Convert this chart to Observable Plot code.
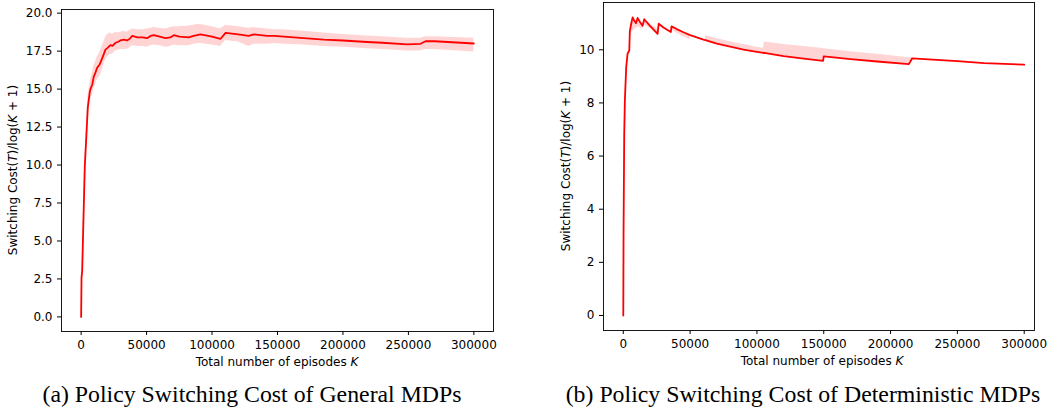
<!DOCTYPE html>
<html><head><meta charset="utf-8">
<script src="https://cdn.jsdelivr.net/npm/d3@7"></script>
<script src="https://cdn.jsdelivr.net/npm/@observablehq/plot@0.6"></script>
<style>
body{margin:0;background:#fff;}
#wrap{position:relative;width:1047px;height:410px;overflow:hidden;background:#fff;}
#left,#right{position:absolute;top:0;}
#left{left:0;} #right{left:527px;}
#ov{position:absolute;left:0;top:0;pointer-events:none;}
</style></head><body>
<div id="wrap"><div id="left"></div><div id="right"></div><svg id="ov" width="1047" height="410"></svg></div>
<script>
// ---- Data ----
const xTicks = [0, 50000, 100000, 150000, 200000, 250000, 300000];
const leftYTicks = [0, 2.5, 5, 7.5, 10, 12.5, 15, 17.5, 20];
const rightYTicks = [0, 2, 4, 6, 8, 10];

const leftK = [0, 300, 800, 1500, 2800, 3800, 5100, 6600, 7100, 8500, 9600, 11000, 12200, 14000, 15500, 17300, 18600, 20000, 22400, 24000, 26200, 28000, 30000, 32600, 35000, 37000, 39000, 43000, 47000, 50400, 53000, 55500, 60000, 64400, 68200, 70800, 75000, 82200, 86000, 88600, 91200, 100000, 106400, 110300, 120000, 128000, 131900, 142100, 148000, 154800, 170000, 185400, 200000, 218500, 230000, 249100, 259300, 263100, 270000, 300000];
const leftMean = [0, 2.6, 3.0, 5.5, 9.9, 11.6, 13.8, 14.8, 15.0, 15.3, 15.8, 16.1, 16.4, 16.6, 16.9, 17.3, 17.6, 17.7, 17.9, 17.85, 18.05, 18.1, 18.2, 18.25, 18.2, 18.3, 18.5, 18.4, 18.4, 18.35, 18.5, 18.55, 18.45, 18.35, 18.4, 18.55, 18.45, 18.4, 18.5, 18.55, 18.6, 18.45, 18.3, 18.7, 18.6, 18.5, 18.6, 18.5, 18.5, 18.45, 18.35, 18.25, 18.2, 18.1, 18.05, 17.95, 17.98, 18.15, 18.15, 18.0];
const leftLo = [0, 2.4, 2.8, 5.1, 9.4, 11.0, 13.1, 14.1, 14.3, 14.6, 15.0, 15.3, 15.6, 15.8, 16.1, 16.6, 16.9, 17.1, 17.3, 17.3, 17.5, 17.55, 17.6, 17.6, 17.6, 17.7, 17.85, 17.8, 17.8, 17.75, 17.85, 17.9, 17.85, 17.75, 17.8, 17.9, 17.85, 17.85, 17.95, 17.98, 18.0, 17.9, 17.8, 18.2, 18.1, 17.8, 17.95, 17.95, 18.0, 17.95, 17.9, 17.8, 17.75, 17.65, 17.6, 17.5, 17.5, 17.6, 17.6, 17.45];
const leftHi = [0, 2.8, 3.3, 5.9, 10.4, 12.2, 14.4, 15.4, 15.6, 16.0, 16.5, 16.8, 17.1, 17.4, 17.7, 18.1, 18.4, 18.6, 18.7, 18.6, 18.75, 18.7, 18.75, 18.8, 18.75, 18.85, 18.95, 18.9, 18.9, 18.95, 19.0, 19.05, 19.0, 18.95, 19.05, 19.1, 19.1, 19.15, 19.2, 19.25, 19.25, 19.1, 18.95, 19.2, 19.1, 19.0, 19.05, 18.95, 18.9, 18.9, 18.8, 18.7, 18.6, 18.5, 18.45, 18.35, 18.35, 18.45, 18.45, 18.35];

const rightK = [0, 200, 700, 1200, 2200, 3200, 4500, 4900, 6000, 7000, 8200, 9500, 10700, 12500, 14400, 15700, 20000, 25700, 26500, 30000, 35600, 36100, 40000, 45000, 50000, 50001, 60000, 61500, 61501, 70000, 80000, 90000, 100000, 105000, 105500, 120000, 135000, 149500, 150000, 170000, 190000, 213700, 216200, 216300, 250000, 270000, 300000];
const rightMean = [0, 3.1, 6.8, 8.1, 9.35, 9.85, 9.97, 10.7, 11.0, 11.22, 11.1, 11.0, 11.2, 11.05, 10.9, 11.15, 10.9, 10.6, 10.98, 10.84, 10.67, 10.88, 10.78, 10.66, 10.55, 10.55, 10.38, 10.36, 10.36, 10.23, 10.12, 10.01, 9.92, 9.88, 9.88, 9.76, 9.67, 9.58, 9.75, 9.65, 9.56, 9.46, 9.68, 9.68, 9.57, 9.5, 9.44];
const rightLo = [0, 3.0, 6.7, 8.0, 9.3, 9.8, 9.9, 10.5, 10.6, 10.7, 10.75, 10.8, 10.85, 10.85, 10.75, 10.95, 10.8, 10.6, 10.98, 10.84, 10.67, 10.75, 10.62, 10.5, 10.37, 10.55, 10.38, 10.36, 10.36, 10.23, 10.12, 10.01, 9.92, 9.88, 9.88, 9.76, 9.67, 9.58, 9.75, 9.65, 9.56, 9.46, 9.68, 9.68, 9.57, 9.5, 9.44];
const rightHi = [0, 3.2, 6.9, 8.2, 9.4, 9.9, 10.0, 10.7, 11.0, 11.25, 11.15, 11.05, 11.2, 11.05, 10.9, 11.17, 10.95, 10.8, 11.0, 10.84, 10.67, 10.88, 10.78, 10.66, 10.55, 10.55, 10.38, 10.36, 10.54, 10.42, 10.3, 10.2, 10.1, 10.06, 10.29, 10.2, 10.12, 10.05, 10.04, 9.93, 9.83, 9.70, 9.70, 9.68, 9.57, 9.5, 9.44];

const yLabel = ["Switching Cost(", "T", ")/log(", "K", " + 1)"];
const xLabel = ["Total number of episodes ", "K"];
const captionA = "(a) Policy Switching Cost of General MDPs";
const captionB = "(b) Policy Switching Cost of Deterministic MDPs";

// ---- Build tables ----
const leftData = leftK.map((k, i) => ({K: k, mean: leftMean[i], lo: leftLo[i], hi: leftHi[i]}));
const rightData = rightK.map((k, i) => ({K: k, mean: rightMean[i], lo: rightLo[i], hi: rightHi[i]}));

function panel(data, opts) {
  return Plot.plot({
    width: opts.width, height: 375,
    marginLeft: opts.ml, marginRight: opts.mr, marginTop: opts.mt, marginBottom: opts.mb,
    style: {fontFamily: "DejaVu Sans", fontSize: "12px", color: "#000", background: "transparent", overflow: "visible"},
    x: {domain: opts.xd},
    y: {domain: opts.yd},
    marks: [
      Plot.areaY(data, {x: "K", y1: "lo", y2: "hi", fill: "#ff0000", fillOpacity: 0.17, curve: "linear"}),
      Plot.lineY(data, {x: "K", y: "mean", stroke: "#ff0000", strokeWidth: 1.8, curve: "linear"}),
      Plot.frame({stroke: "#000", strokeWidth: 0.9}),
      Plot.axisX({ticks: xTicks, tickFormat: d => String(d), tickSize: 4, tickPadding: 5, label: null, fontSize: 12}),
      Plot.axisY({ticks: opts.yt, tickFormat: opts.yf, tickSize: 4, tickPadding: 5, label: null, fontSize: 12})
    ]
  });
}

document.getElementById("left").append(panel(leftData, {
  width: 527, ml: 61, mr: 34, mt: 9, mb: 44,
  xd: [-15000, 315000], yd: [-0.96, 20.24], yt: leftYTicks, yf: d3.format(".1f")
}));
document.getElementById("right").append(panel(rightData, {
  width: 520, ml: 76, mr: 13, mt: 2, mb: 45,
  xd: [-14800, 307700], yd: [-0.565, 11.78], yt: rightYTicks, yf: d => String(d)
}));

// ---- Overlay text: axis labels and captions ----
const ov = d3.select("#ov");
function richText(g, parts) {
  parts.forEach((p, i) => {
    g.append("tspan").attr("font-style", i % 2 === 1 ? "italic" : "normal").text(p);
  });
}
function yLab(cx, cy) {
  const t = ov.append("text")
    .attr("transform", `translate(${cx},${cy}) rotate(-90)`)
    .attr("text-anchor", "middle").attr("dominant-baseline", "central")
    .attr("font-family", "DejaVu Sans").attr("font-size", 12).attr("fill", "#000");
  richText(t, yLabel);
}
function xLab(cx, by) {
  const t = ov.append("text").attr("x", cx).attr("y", by)
    .attr("text-anchor", "middle")
    .attr("font-family", "DejaVu Sans").attr("font-size", 12).attr("fill", "#000");
  richText(t, xLabel);
}
yLab(13, 170);
yLab(566, 166);
xLab(277, 366);
xLab(822, 365);
ov.append("text").attr("x", 252).attr("y", 402).attr("text-anchor", "middle")
  .attr("font-family", "Liberation Serif").attr("font-size", 23.8).attr("fill", "#000").text(captionA);
ov.append("text").attr("x", 803).attr("y", 402).attr("text-anchor", "middle")
  .attr("font-family", "Liberation Serif").attr("font-size", 23.8).attr("fill", "#000").text(captionB);
</script>
</body></html>
